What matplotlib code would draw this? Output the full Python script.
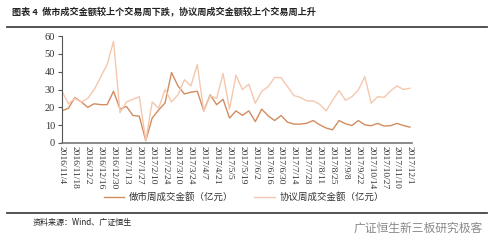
import matplotlib
matplotlib.use("Agg")
import matplotlib.pyplot as plt

plt.rcParams["font.family"] = ["Noto Sans CJK SC", "DejaVu Sans"]

# Weekly turnover (100 million yuan)
market_making = [18, 19.5, 25.5, 23, 20, 22, 21.5, 21.5, 29, 19,
                 20.5, 15.5, 15, 1.3, 14, 18.5, 22.5, 39.5, 32, 27.5,
                 28.5, 29, 18, 27, 21.5, 24.5, 14, 18, 15.5, 18,
                 12, 19, 15.2, 12.6, 15.4, 11.7, 10.6, 10.6, 11.1, 12.6,
                 10.2, 8.4, 7.4, 12.6, 10.8, 9.8, 12.6, 10.2, 9.7, 11,
                 9.5, 9.7, 11, 9.8, 8.9]
agreement = [29, 22, 25, 23, 25, 30, 37, 44, 57, 17,
             23, 24.5, 26, 1.5, 23, 19.5, 30, 23, 27, 35.5,
             32, 44, 18, 26.5, 25, 39, 19, 38, 30, 33,
             22.3, 29, 31.6, 36.8, 36.6, 31.6, 26.6, 25.5, 23.6, 23.6,
             21.7, 18, 24, 29.4, 24, 26, 29.7, 37.2, 22.3, 26,
             25.6, 29.2, 32, 30, 30.7]
tick_labels = ["2016/11/4", "2016/11/18", "2016/12/2", "2016/12/16", "2016/12/30",
               "2017/1/13", "2017/1/27", "2017/2/10", "2017/2/24", "2017/3/10",
               "2017/3/24", "2017/4/7", "2017/4/21", "2017/5/5", "2017/5/19",
               "2017/6/2", "2017/6/16", "2017/6/30", "2017/7/14", "2017/7/28",
               "2017/8/11", "2017/8/25", "2017/9/8", "2017/9/22", "2017/10/14",
               "2017/10/27", "2017/11/10", "2017/12/1"]
series_names = ["做市周成交金额（亿元）", "协议周成交金额（亿元）"]

fig = plt.figure(figsize=(4.98, 2.5), dpi=100)
ax = fig.add_axes([0.1245, 0.428, 0.7025, 0.428])

x = range(len(market_making))
ax.plot(x, market_making, color="#D38C60", lw=1.0, label=series_names[0])
ax.plot(x, agreement, color="#F5C8AE", lw=1.0, label=series_names[1])

ax.set_xlim(0, len(market_making) - 0.7)
ax.set_ylim(0, 60)
ax.set_yticks(range(0, 61, 10))
ax.set_xticks(range(0, len(market_making), 2))
ax.set_xticklabels(tick_labels, rotation=270, fontsize=6.8,
                   family="Liberation Serif", color="#333333")
for lab in ax.get_yticklabels():
    lab.set_family("Liberation Serif")
    lab.set_fontsize(7.5)
    lab.set_color("#333333")

for s in ["top", "right"]:
    ax.spines[s].set_visible(False)
ax.spines["left"].set_color("#555555")
ax.spines["bottom"].set_color("#777777")
ax.spines["bottom"].set_linewidth(1.2)
ax.tick_params(axis="y", direction="out", length=3, width=0.8, color="#555555", pad=2)
ax.tick_params(axis="x", length=0, pad=2)

ax.legend(loc="center", bbox_to_anchor=(0.52, -0.505), ncol=2, frameon=False,
          fontsize=6.8, handlelength=2.2, columnspacing=2.2, handletextpad=0.5,
          labelcolor="#333333", borderpad=0)

# title and rules
fig.text(0.024, 0.953, "图表 4  做市成交金额较上个交易周下跌，协议周成交金额较上个交易周上升",
         fontsize=6.6, weight="bold", color="#222222", va="center")
fig.add_artist(plt.Line2D([0.014, 0.978], [0.892, 0.892], color="#444444", lw=1.3))
fig.add_artist(plt.Line2D([0.014, 0.978], [0.148, 0.148], color="#444444", lw=1.3))
fig.text(0.066, 0.108, "资料来源：Wind、广证恒生", fontsize=5.8, color="#222222", va="center")
fig.text(0.97, 0.085, "广证恒生新三板研究极客", fontsize=8.5, color="#888888",
         va="center", ha="right")

fig.savefig("out.png", dpi=100)
